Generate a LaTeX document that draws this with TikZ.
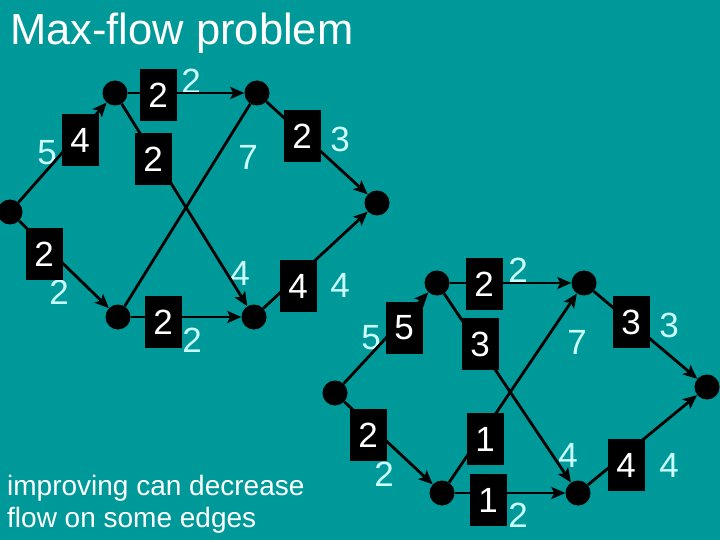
\documentclass[tikz,border=0pt]{standalone}
\usepackage{fontspec}
\setmainfont{Liberation Sans}
\usetikzlibrary{arrows.meta}
\definecolor{bg}{RGB}{0,153,153}
\definecolor{capcol}{RGB}{204,255,255}
\begin{document}
\begin{tikzpicture}[x=1pt,y=-1pt,
  vert/.style={circle,fill=black,minimum size=25pt,inner sep=0pt},
  edge/.style={line width=2.8pt,-{Stealth[length=14pt,width=12pt,inset=3pt]}},
  plainedge/.style={line width=2.8pt},
  flow/.style={fill=black,text=white,minimum width=37pt,minimum height=52pt,inner sep=0pt,font=\fontsize{35}{35}\selectfont},
  capa/.style={text=capcol,inner sep=0pt,font=\fontsize{35}{35}\selectfont},
  txt/.style={text=white,inner sep=0pt,anchor=base west},
  ]
\fill[bg] (0,0) rectangle (720,540);
\useasboundingbox (0,0) rectangle (720,540);

\node[txt,font=\fontsize{43.5}{43.5}\selectfont] (title) at (10,45) {Max-flow problem};
\node[txt,font=\fontsize{28}{28}\selectfont] (note1) at (7,495) {improving can decrease};
\node[txt,font=\fontsize{28}{28}\selectfont] (note2) at (7,527) {flow on some edges};

% graph 1 vertices
\node[vert] (s1) at (10,212) {};
\node[vert] (u1) at (115,93) {};
\node[vert] (v1) at (257,93) {};
\node[vert] (t1) at (377,203) {};
\node[vert] (w1) at (118,317) {};
\node[vert] (x1) at (254,317) {};

% graph 2 vertices
\node[vert] (s2) at (335,393) {};
\node[vert] (u2) at (437,283) {};
\node[vert] (v2) at (584,283) {};
\node[vert] (t2) at (707,387) {};
\node[vert] (w2) at (442,493) {};
\node[vert] (x2) at (578,493) {};

% capacities graph 1
\node[capa] (c1a) at (47,153) {5};
\node[capa] (c1b) at (191,81) {2};
\node[capa] (c1c) at (240,273) {4};
\node[capa] (c1d) at (248,157) {7};
\node[capa] (c1e) at (340,139) {3};
\node[capa] (c1f) at (340,285) {4};
\node[capa] (c1g) at (59,292) {2};
\node[capa] (c1h) at (192,340) {2};

% capacities graph 2
\node[capa] (c2a) at (371,338) {5};
\node[capa] (c2b) at (518,270) {2};
\node[capa] (c2c) at (568,455) {4};
\node[capa] (c2d) at (577,342) {7};
\node[capa] (c2e) at (669,325) {3};
\node[capa] (c2f) at (669,465) {4};
\node[capa] (c2g) at (384,474) {2};
\node[capa] (c2h) at (518,515) {2};

% edges graph 1
\draw[edge] (s1) -- (u1);
\draw[edge] (u1) -- (v1);
\draw[edge] (u1) -- (x1);
\draw[plainedge] (w1) -- (v1);
\draw[edge] (v1) -- (t1);
\draw[edge] (x1) -- (t1);
\draw[edge] (s1) -- (w1);
\draw[edge] (w1) -- (x1);

% edges graph 2
\draw[edge] (s2) -- (u2);
\draw[edge] (u2) -- (v2);
\draw[edge] (u2) -- (x2);
\draw[edge] (w2) -- (v2);
\draw[edge] (v2) -- (t2);
\draw[edge] (x2) -- (t2);
\draw[edge] (s2) -- (w2);
\draw[edge] (w2) -- (x2);

% flows graph 1
\node[flow] (f1a) at (80,140) {4};
\node[flow] (f1b) at (158,95) {2};
\node[flow] (f1c) at (153,159) {2};
\node[flow] (f1e) at (302,136) {2};
\node[flow] (f1f) at (298,286) {4};
\node[flow] (f1g) at (44,254) {2};
\node[flow] (f1h) at (163,322) {2};

% flows graph 2
\node[flow] (f2a) at (404,328) {5};
\node[flow] (f2b) at (484,284) {2};
\node[flow] (f2c) at (480,344) {3};
\node[flow] (f2d) at (485,439) {1};
\node[flow] (f2e) at (631,322) {3};
\node[flow] (f2f) at (626,465) {4};
\node[flow] (f2g) at (368,435) {2};
\node[flow] (f2h) at (488,500) {1};
\end{tikzpicture}
\end{document}
